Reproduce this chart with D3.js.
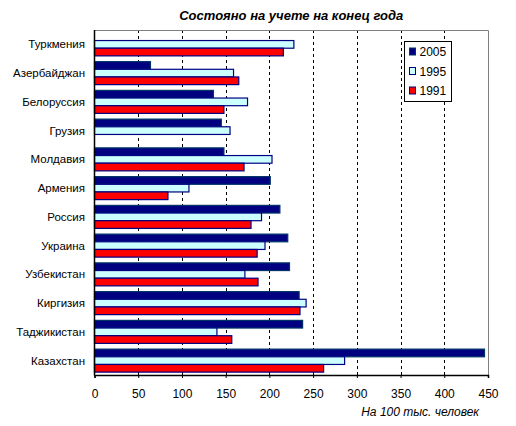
<!DOCTYPE html>
<html>
<head>
<meta charset="UTF-8">
<title>Состояно на учете на конец года</title>
<script src="https://cdn.jsdelivr.net/npm/d3@7"></script>
<style>
    body { margin: 0; background: #fff; }
    text { font-family: "Liberation Sans", Arial, sans-serif; }
</style>
</head>
<body>
<div id="chart"></div>
<script>
    // data
    const countries = ["Туркмения", "Азербайджан", "Белоруссия", "Грузия", "Молдавия", "Армения",
        "Россия", "Украина", "Узбекистан", "Киргизия", "Таджикистан", "Казахстан"];
    const seriesNames = ["2005", "1995", "1991"];
    const values2005 = [null, 64, 136, 145, 148, 201, 212, 221, 223, 234, 238, 446];
    const values1995 = [228, 159, 175, 155, 203, 108, 191, 195, 172, 242, 140, 286];
    const values1991 = [216, 165, 148, null, 171, 84, 179, 186, 187, 235, 157, 262];
    const xTicks = [0, 50, 100, 150, 200, 250, 300, 350, 400, 450];

    const fills = {"2005": "#000080", "1995": "#ccffff", "1991": "#ff0000"};
    const strokes = {"2005": "#003366", "1995": "#000080", "1991": "#000080"};

    const width = 516, height = 426;
    const plot = {left: 94.5, right: 488, top: 30, bottom: 375};

    const svg = d3.select('#chart').append('svg')
        .attr('width', width)
        .attr('height', height);

    svg.append('rect').attr('width', width).attr('height', height).attr('fill', '#fff');

    const x = d3.scaleLinear().domain([0, 450]).range([plot.left, plot.right]);
    const y = d3.scaleBand().domain(countries).range([plot.top, plot.bottom])
        .paddingInner(0.2).paddingOuter(0.1);
    const ySub = d3.scaleBand().domain(seriesNames).range([0, y.bandwidth()]);

    const rows = countries.map((c, i) => ({
        country: c,
        vals: [
            {key: "2005", v: values2005[i]},
            {key: "1995", v: values1995[i]},
            {key: "1991", v: values1991[i]}
        ]
    }));

    // grid lines
    svg.append('g')
        .selectAll('line')
        .data(xTicks.filter(d => d > 0 && d < 450))
        .join('line')
        .attr('x1', d => Math.round(x(d)) + 0.5)
        .attr('x2', d => Math.round(x(d)) + 0.5)
        .attr('y1', plot.top)
        .attr('y2', plot.bottom)
        .attr('stroke', '#000')
        .attr('stroke-dasharray', '3,3');

    // plot border (top/right grey)
    svg.append('path')
        .attr('d', `M${plot.left},${plot.top + 0.5}H${plot.right + 0.5}V${plot.bottom}`)
        .attr('fill', 'none')
        .attr('stroke', '#808080');

    // bars
    const groups = svg.append('g')
        .selectAll('g')
        .data(rows)
        .join('g')
        .attr('transform', d => `translate(0,${y(d.country)})`);

    groups.selectAll('rect')
        .data(d => d.vals.filter(s => s.v != null))
        .join('rect')
        .attr('x', x(0))
        .attr('y', s => ySub(s.key))
        .attr('width', s => x(s.v) - x(0))
        .attr('height', ySub.bandwidth())
        .attr('fill', s => fills[s.key])
        .attr('stroke', s => strokes[s.key])
        .attr('stroke-width', 1.2);

    // axes
    svg.append('line')
        .attr('x1', plot.left).attr('x2', plot.left)
        .attr('y1', plot.top).attr('y2', plot.bottom + 0.5)
        .attr('stroke', '#000').attr('stroke-width', 1.5);

    const xAxis = svg.append('g')
        .attr('transform', `translate(0,${plot.bottom})`)
        .call(d3.axisBottom(x).tickValues(xTicks).tickSize(3).tickPadding(11));
    xAxis.select('.domain').attr('stroke-width', 1.5);
    xAxis.selectAll('text').attr('font-size', 12).attr('font-family', '"Liberation Sans", Arial, sans-serif');

    svg.append('g')
        .selectAll('text')
        .data(countries)
        .join('text')
        .attr('x', 85)
        .attr('y', d => y(d) + y.bandwidth() / 2)
        .attr('dy', '0.35em')
        .attr('text-anchor', 'end')
        .attr('font-size', 11.5)
        .text(d => d);

    // title
    svg.append('text')
        .attr('x', (plot.left + plot.right) / 2)
        .attr('y', 20)
        .attr('text-anchor', 'middle')
        .attr('font-size', 13)
        .attr('font-weight', 'bold')
        .attr('font-style', 'italic')
        .text('Состояно на учете на конец года');

    svg.append('text')
        .attr('x', 479)
        .attr('y', 416)
        .attr('text-anchor', 'end')
        .attr('font-size', 12)
        .attr('font-style', 'italic')
        .text('На 100 тыс. человек');

    // legend
    const legend = svg.append('g').attr('transform', 'translate(404.5,41.5)');
    legend.append('rect')
        .attr('width', 47).attr('height', 60)
        .attr('fill', '#fff').attr('stroke', '#000');
    const li = legend.selectAll('g.item')
        .data(seriesNames)
        .join('g')
        .attr('class', 'item')
        .attr('transform', (d, i) => `translate(5,${10 + i * 19.5})`);
    li.append('rect')
        .attr('x', 0).attr('y', -3.5)
        .attr('width', 6).attr('height', 7)
        .attr('fill', d => fills[d])
        .attr('stroke', d => strokes[d]);
    li.append('text')
        .attr('x', 10)
        .attr('dy', '0.38em')
        .attr('font-size', 12)
        .text(d => d);
</script>
</body>
</html>
